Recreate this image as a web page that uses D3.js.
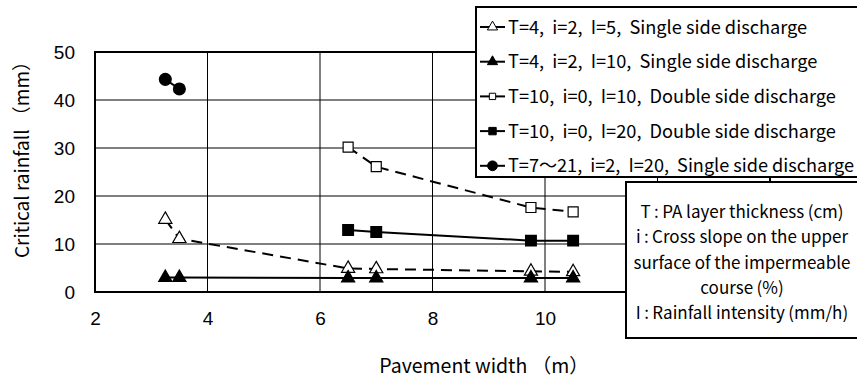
<!DOCTYPE html>
<html>
<head>
<meta charset="utf-8">
<script src="https://cdn.jsdelivr.net/npm/d3@7"></script>
<style>
  html, body { margin: 0; padding: 0; background: #fff; }
  svg text { font-family: "Noto Sans CJK JP", "Noto Sans", sans-serif; fill: #000; }
</style>
</head>
<body>
<div id="chart"></div>
<script>
// data
const widths1 = [3.25, 3.5, 6.5, 7, 9.75, 10.5];
const rain1 = [15.1, 11.1, 4.9, 4.8, 4.3, 4.2];
const widths2 = [3.25, 3.5, 6.5, 7, 9.75, 10.5];
const rain2 = [3.0, 3.0, 2.9, 2.9, 2.9, 2.9];
const widths3 = [6.5, 7, 9.75, 10.5];
const rain3 = [30.2, 26.1, 17.6, 16.7];
const widths4 = [6.5, 7, 9.75, 10.5];
const rain4 = [12.9, 12.5, 10.7, 10.7];
const widths5 = [3.25, 3.5];
const rain5 = [44.3, 42.3];

const seriesNames = [
  "T=4,\u00a0 i=2,\u00a0 I=5,\u00a0 Single side discharge",
  "T=4,\u00a0 i=2,\u00a0 I=10,\u00a0 Single side discharge",
  "T=10,\u00a0 i=0,\u00a0 I=10,\u00a0 Double side discharge",
  "T=10,\u00a0 i=0,\u00a0 I=20,\u00a0 Double side discharge",
  "T=7\uff5e21,\u00a0 i=2,\u00a0 I=20,\u00a0 Single side discharge"
];
const noteLines = [
  "T\u2009:\u2009PA layer thickness\u2009(cm)",
  "i\u2009:\u2009Cross slope on the upper",
  "surface of the impermeable",
  "course\u2009(%)",
  "I\u2009:\u2009Rainfall intensity\u2009(mm/h)"
];
const gridX = [2, 4, 6, 8, 10, 12, 14];
const xTickLabels = [2, 4, 6, 8, 10];
const yTicks = [0, 10, 20, 30, 40, 50];

const series = [
  { xs: widths1, ys: rain1, symbol: d3.symbolTriangle, filled: false, dashed: true, size: 75, legSize: 45 },
  { xs: widths2, ys: rain2, symbol: d3.symbolTriangle, filled: true, dashed: false, size: 75, legSize: 45 },
  { xs: widths3, ys: rain3, symbol: d3.symbolSquare, filled: false, dashed: true, size: 100, legSize: 40 },
  { xs: widths4, ys: rain4, symbol: d3.symbolSquare, filled: true, dashed: false, size: 115, legSize: 55 },
  { xs: widths5, ys: rain5, symbol: d3.symbolCircle, filled: true, dashed: false, size: 110, legSize: 75 }
];

const W = 857, H = 381;
const svg = d3.select("#chart").append("svg")
  .attr("width", W).attr("height", H);

const x = d3.scaleLinear().domain([2, 14]).range([95, 770]);
const y = d3.scaleLinear().domain([0, 50]).range([292, 52]);

// grid
const g = svg.append("g");
g.selectAll(".vg").data(gridX).enter().append("line")
  .attr("x1", d => x(d)).attr("x2", d => x(d))
  .attr("y1", y(0)).attr("y2", y(50))
  .attr("stroke", "#000").attr("stroke-width", 1);
g.selectAll(".hg").data(yTicks).enter().append("line")
  .attr("x1", x(2)).attr("x2", x(14))
  .attr("y1", d => y(d)).attr("y2", d => y(d))
  .attr("stroke", "#000").attr("stroke-width", 1);
g.append("rect")
  .attr("x", x(2)).attr("y", y(50))
  .attr("width", x(14) - x(2)).attr("height", y(0) - y(50))
  .attr("fill", "none").attr("stroke", "#000").attr("stroke-width", 2);

// tick labels
const yAxis = d3.axisLeft(y).tickValues(yTicks).tickSize(0).tickPadding(20);
svg.append("g").attr("transform", "translate(" + x(2) + ",0)")
  .call(yAxis)
  .call(a => a.select(".domain").remove())
  .selectAll("text")
  .style("font-family", "'Liberation Sans', Arial, sans-serif")
  .style("font-size", "19px");

const xAxis = d3.axisBottom(x).tickValues(xTickLabels).tickSize(0).tickPadding(20);
svg.append("g").attr("transform", "translate(0," + y(0) + ")")
  .call(xAxis)
  .call(a => a.select(".domain").remove())
  .selectAll("text")
  .style("font-family", "'Liberation Sans', Arial, sans-serif")
  .style("font-size", "19px");

// axis titles
svg.append("text")
  .attr("x", 484).attr("y", 373)
  .attr("text-anchor", "middle")
  .style("font-size", "19.5px")
  .text("Pavement width \uff08m\uff09");
svg.append("text")
  .attr("transform", "translate(29,155) rotate(-90)")
  .attr("text-anchor", "middle")
  .style("font-size", "19px")
  .text("Critical rainfall \uff08mm\uff09");

// series
const line = d3.line().x(d => x(d[0])).y(d => y(d[1]));
series.forEach(s => {
  const pts = s.xs.map((v, i) => [v, s.ys[i]]);
  svg.append("path")
    .attr("d", line(pts))
    .attr("fill", "none")
    .attr("stroke", "#000")
    .attr("stroke-width", 2)
    .attr("stroke-dasharray", s.dashed ? "11,7" : null);
  svg.selectAll(null).data(pts).enter().append("path")
    .attr("transform", d => "translate(" + x(d[0]) + "," + y(d[1]) + ")")
    .attr("d", d3.symbol().type(s.symbol).size(s.size))
    .attr("fill", s.filled ? "#000" : "#fff")
    .attr("stroke", "#000")
    .attr("stroke-width", 1.2);
});

// legend box
const leg = svg.append("g");
leg.append("rect")
  .attr("x", 476).attr("y", 7)
  .attr("width", 400).attr("height", 170)
  .attr("fill", "#fff").attr("stroke", "#000").attr("stroke-width", 2);
series.forEach((s, i) => {
  const cy = 27 + i * 34.7;
  leg.append("line")
    .attr("x1", 480).attr("x2", 505)
    .attr("y1", cy).attr("y2", cy)
    .attr("stroke", "#000").attr("stroke-width", 2);
  leg.append("path")
    .attr("transform", "translate(492.5," + cy + ")")
    .attr("d", d3.symbol().type(s.symbol).size(s.legSize))
    .attr("fill", s.filled ? "#000" : "#fff")
    .attr("stroke", "#000").attr("stroke-width", 1);
  const t = leg.append("text")
    .attr("x", 508).attr("y", cy)
    .attr("dy", "0.36em")
    .style("font-size", "18.2px")
    .text(seriesNames[i]);
  // keep the longest row inside the picture, as in the reference
  if (t.node().getComputedTextLength() > 346) {
    t.attr("textLength", 346).attr("lengthAdjust", "spacingAndGlyphs");
  }
});

// notes box
const note = svg.append("g");
note.append("rect")
  .attr("x", 626).attr("y", 182)
  .attr("width", 260).attr("height", 156)
  .attr("fill", "#fff").attr("stroke", "#000").attr("stroke-width", 2);
noteLines.forEach((t, i) => {
  note.append("text")
    .attr("x", 742).attr("y", 212 + i * 25.2)
    .attr("dy", "0.36em")
    .attr("text-anchor", "middle")
    .style("font-size", "17px")
    .text(t);
});
</script>
</body>
</html>
